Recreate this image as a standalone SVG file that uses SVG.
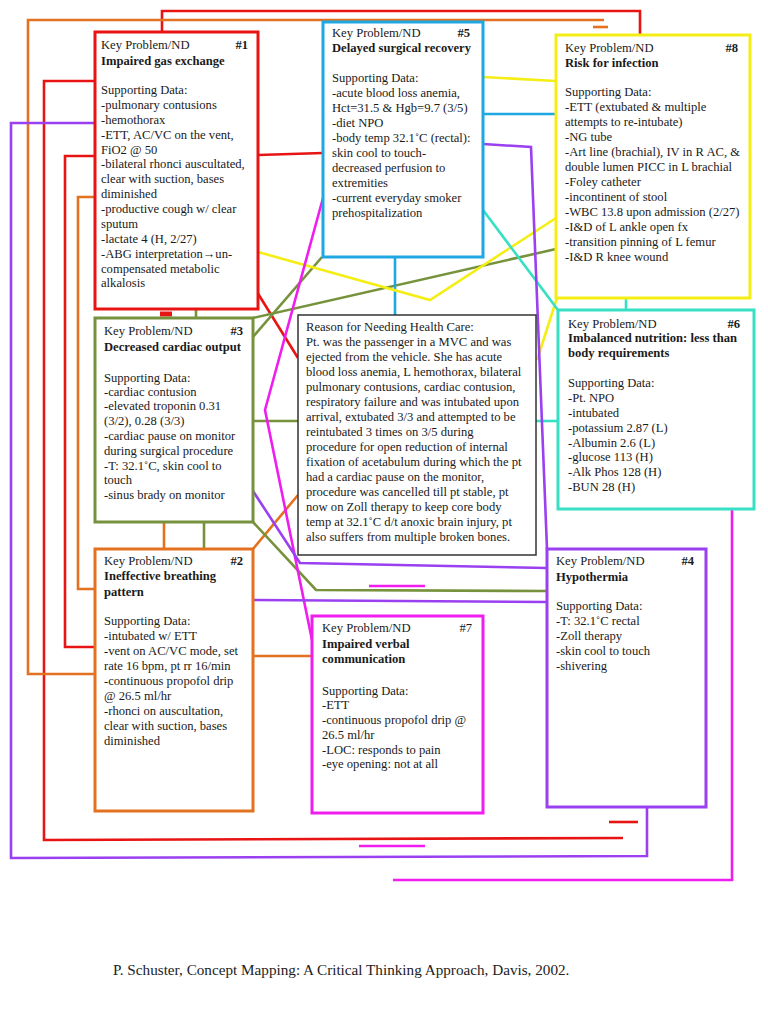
<svg xmlns="http://www.w3.org/2000/svg" width="768" height="1024" viewBox="0 0 768 1024">
<style>
.t{font-family:"Liberation Serif","Times New Roman",serif;font-size:12.6px;fill:#1a1a1a}
.b{font-weight:bold}
.n{fill:#fff;stroke-width:3}
.c{fill:none;stroke-width:2.6;stroke-linejoin:miter}
.red{stroke:#e81414}.org{stroke:#e3711f}.grn{stroke:#76923c}.blu{stroke:#1ea7e0}
.yel{stroke:#f5ee14}.cyn{stroke:#36e0c4}.mag{stroke:#ef1eef}.pur{stroke:#9a40f0}
</style>
<rect width="768" height="1024" fill="#fff"/>
<g id="connectors">
<polyline class="c red" points="162,32 162,11 640,11 640,35"/>
<polyline class="c red" points="95,81 44,81 44,840 623,838"/>
<line class="c red" x1="609" y1="822" x2="638" y2="822"/>
<polyline class="c red" points="95,156 65,156 65,647 95,647"/>
<line class="c red" x1="258" y1="155" x2="323" y2="153"/>
<line class="c red" x1="257" y1="292" x2="298" y2="358"/>
<line class="c red" x1="160" y1="314" x2="172" y2="314" style="stroke-width:5"/>
<polyline class="c org" points="604,20 28,20 28,674 95,674"/>
<line class="c org" x1="593" y1="27" x2="608" y2="27"/>
<polyline class="c org" points="95,197 78,197 78,589 95,589"/>
<line class="c org" x1="164" y1="522" x2="164" y2="549"/>
<line class="c org" x1="253" y1="549" x2="298" y2="495"/>
<line class="c org" x1="253" y1="656" x2="312" y2="656"/>
<line class="c grn" x1="556" y1="249" x2="253" y2="318"/>
<line class="c grn" x1="322" y1="257" x2="253" y2="337"/>
<line class="c grn" x1="196" y1="309" x2="196" y2="318"/>
<line class="c grn" x1="204" y1="522" x2="204" y2="549"/>
<polyline class="c grn" points="253,522 316,590 547,591"/>
<line class="c grn" x1="253" y1="421" x2="298" y2="421"/>
<line class="c blu" x1="483" y1="114" x2="556" y2="114"/>
<line class="c blu" x1="395" y1="257" x2="395" y2="315"/>
<line class="c yel" x1="483" y1="77" x2="556" y2="81"/>
<polyline class="c yel" points="258,252 430,300 556,218"/>
<line class="c yel" x1="557" y1="298" x2="537" y2="360"/>
<line class="c cyn" x1="483" y1="210" x2="558" y2="310"/>
<line class="c cyn" x1="626" y1="298" x2="626" y2="310"/>
<line class="c cyn" x1="536" y1="421" x2="558" y2="421"/>
<polyline class="c mag" points="323,198 265,410 312,640"/>
<line class="c mag" x1="369" y1="586" x2="425" y2="586"/>
<line class="c mag" x1="359" y1="846" x2="425" y2="846"/>
<polyline class="c mag" points="732,509 732,880 393,880"/>
<polyline class="c pur" points="95,123 11,123 11,858 647,856 647,807"/>
<polyline class="c pur" points="483,144 531,147 547,549"/>
<polyline class="c pur" points="253,491 300,563 547,568"/>
<line class="c pur" x1="253" y1="600" x2="547" y2="602"/>
</g>
<g id="node1">
<rect class="n red" x="95" y="32" width="163" height="277"/>
<text class="t"><tspan x="101" y="49">Key Problem/ND</tspan><tspan x="248" y="49" text-anchor="end" class="b">#1</tspan><tspan x="101" y="65" class="b">Impaired gas exchange</tspan><tspan x="101" y="94">Supporting Data:</tspan><tspan x="101" y="109">-pulmonary contusions</tspan><tspan x="101" y="124">-hemothorax</tspan><tspan x="101" y="139">-ETT, AC/VC on the vent,</tspan><tspan x="101" y="154">FiO2 @ 50</tspan><tspan x="101" y="168">-bilateral rhonci auscultated,</tspan><tspan x="101" y="183">clear with suction, bases</tspan><tspan x="101" y="198">diminished</tspan><tspan x="101" y="213">-productive cough w/ clear</tspan><tspan x="101" y="228">sputum</tspan><tspan x="101" y="243">-lactate 4 (H, 2/27)</tspan><tspan x="101" y="258">-ABG interpretation→un-</tspan><tspan x="101" y="273">compensated metabolic</tspan><tspan x="101" y="287">alkalosis</tspan></text>
</g>
<g id="node5">
<rect class="n blu" x="323" y="22" width="160" height="235"/>
<text class="t"><tspan x="332" y="37">Key Problem/ND</tspan><tspan x="470" y="37" text-anchor="end" class="b">#5</tspan><tspan x="332" y="52" class="b">Delayed surgical recovery</tspan><tspan x="332" y="82">Supporting Data:</tspan><tspan x="332" y="97">-acute blood loss anemia,</tspan><tspan x="332" y="112">Hct=31.5 &amp; Hgb=9.7 (3/5)</tspan><tspan x="332" y="127">-diet NPO</tspan><tspan x="332" y="142">-body temp 32.1˚C (rectal):</tspan><tspan x="332" y="157">skin cool to touch-</tspan><tspan x="332" y="172">decreased perfusion to</tspan><tspan x="332" y="187">extremities</tspan><tspan x="332" y="202">-current everyday smoker</tspan><tspan x="332" y="217">prehospitalization</tspan></text>
</g>
<g id="node8">
<rect class="n yel" x="556" y="35" width="194" height="263"/>
<text class="t"><tspan x="565" y="52">Key Problem/ND</tspan><tspan x="738" y="52" text-anchor="end" class="b">#8</tspan><tspan x="565" y="67" class="b">Risk for infection</tspan><tspan x="565" y="96">Supporting Data:</tspan><tspan x="565" y="111">-ETT (extubated &amp; multiple</tspan><tspan x="565" y="126">attempts to re-intubate)</tspan><tspan x="565" y="141">-NG tube</tspan><tspan x="565" y="156">-Art line (brachial), IV in R AC, &amp;</tspan><tspan x="565" y="171">double lumen PICC in L brachial</tspan><tspan x="565" y="186">-Foley catheter</tspan><tspan x="565" y="201">-incontinent of stool</tspan><tspan x="565" y="216">-WBC 13.8 upon admission (2/27)</tspan><tspan x="565" y="231">-I&amp;D of L ankle open fx</tspan><tspan x="565" y="246">-transition pinning of L femur</tspan><tspan x="565" y="261">-I&amp;D R knee wound</tspan></text>
</g>
<g id="node3">
<rect class="n grn" x="95" y="318" width="158" height="204"/>
<text class="t"><tspan x="104" y="335">Key Problem/ND</tspan><tspan x="243" y="335" text-anchor="end" class="b">#3</tspan><tspan x="104" y="351" class="b">Decreased cardiac output</tspan><tspan x="104" y="382">Supporting Data:</tspan><tspan x="104" y="396">-cardiac contusion</tspan><tspan x="104" y="410">-elevated troponin 0.31</tspan><tspan x="104" y="425">(3/2), 0.28 (3/3)</tspan><tspan x="104" y="440">-cardiac pause on monitor</tspan><tspan x="104" y="455">during surgical procedure</tspan><tspan x="104" y="470">-T: 32.1˚C, skin cool to</tspan><tspan x="104" y="484">touch</tspan><tspan x="104" y="499">-sinus brady on monitor</tspan></text>
</g>
<g id="reason">
<rect x="298" y="315" width="238" height="240" fill="#fff" stroke="#333" stroke-width="1.5"/>
<text class="t"><tspan x="306" y="331">Reason for Needing Health Care:</tspan><tspan x="306" y="346">Pt. was the passenger in a MVC and was</tspan><tspan x="306" y="361">ejected from the vehicle. She has acute</tspan><tspan x="306" y="376">blood loss anemia, L hemothorax, bilateral</tspan><tspan x="306" y="391">pulmonary contusions, cardiac contusion,</tspan><tspan x="306" y="406">respiratory failure and was intubated upon</tspan><tspan x="306" y="421">arrival, extubated 3/3 and attempted to be</tspan><tspan x="306" y="436">reintubated 3 times on 3/5 during</tspan><tspan x="306" y="451">procedure for open reduction of internal</tspan><tspan x="306" y="466">fixation of acetabulum during which the pt</tspan><tspan x="306" y="481">had a cardiac pause on the monitor,</tspan><tspan x="306" y="496">procedure was cancelled till pt stable, pt</tspan><tspan x="306" y="511">now on Zoll therapy to keep core body</tspan><tspan x="306" y="526">temp at 32.1˚C d/t anoxic brain injury, pt</tspan><tspan x="306" y="541">also suffers from multiple broken bones.</tspan></text>
</g>
<g id="node6">
<rect class="n cyn" x="558" y="310" width="196" height="199"/>
<text class="t"><tspan x="568" y="328">Key Problem/ND</tspan><tspan x="740" y="328" text-anchor="end" class="b">#6</tspan><tspan x="568" y="342" class="b">Imbalanced nutrition: less than</tspan><tspan x="568" y="357" class="b">body requirements</tspan><tspan x="568" y="387">Supporting Data:</tspan><tspan x="568" y="402">-Pt. NPO</tspan><tspan x="568" y="417">-intubated</tspan><tspan x="568" y="432">-potassium 2.87 (L)</tspan><tspan x="568" y="447">-Albumin 2.6 (L)</tspan><tspan x="568" y="461">-glucose 113 (H)</tspan><tspan x="568" y="476">-Alk Phos 128 (H)</tspan><tspan x="568" y="491">-BUN 28 (H)</tspan></text>
</g>
<g id="node2">
<rect class="n org" x="95" y="549" width="158" height="262"/>
<text class="t"><tspan x="104" y="565">Key Problem/ND</tspan><tspan x="243" y="565" text-anchor="end" class="b">#2</tspan><tspan x="104" y="580" class="b">Ineffective breathing</tspan><tspan x="104" y="596" class="b">pattern</tspan><tspan x="104" y="625">Supporting Data:</tspan><tspan x="104" y="640">-intubated w/ ETT</tspan><tspan x="104" y="655">-vent on AC/VC mode, set</tspan><tspan x="104" y="670">rate 16 bpm, pt rr 16/min</tspan><tspan x="104" y="685">-continuous propofol drip</tspan><tspan x="104" y="700">@ 26.5 ml/hr</tspan><tspan x="104" y="715">-rhonci on auscultation,</tspan><tspan x="104" y="730">clear with suction, bases</tspan><tspan x="104" y="745">diminished</tspan></text>
</g>
<g id="node7">
<rect class="n mag" x="312" y="616" width="171" height="197"/>
<text class="t"><tspan x="322" y="632">Key Problem/ND</tspan><tspan x="472" y="632" text-anchor="end">#7</tspan><tspan x="322" y="648" class="b">Impaired verbal</tspan><tspan x="322" y="663" class="b">communication</tspan><tspan x="322" y="695">Supporting Data:</tspan><tspan x="322" y="709">-ETT</tspan><tspan x="322" y="724">-continuous propofol drip @</tspan><tspan x="322" y="739">26.5 ml/hr</tspan><tspan x="322" y="754">-LOC: responds to pain</tspan><tspan x="322" y="768">-eye opening: not at all</tspan></text>
</g>
<g id="node4">
<rect class="n pur" x="547" y="549" width="159" height="258"/>
<text class="t"><tspan x="556" y="565">Key Problem/ND</tspan><tspan x="694" y="565" text-anchor="end" class="b">#4</tspan><tspan x="556" y="581" class="b">Hypothermia</tspan><tspan x="556" y="610">Supporting Data:</tspan><tspan x="556" y="625">-T: 32.1˚C rectal</tspan><tspan x="556" y="640">-Zoll therapy</tspan><tspan x="556" y="655">-skin cool to touch</tspan><tspan x="556" y="670">-shivering</tspan></text>
</g>
<text x="113" y="975" style="font-family:'Liberation Serif','Times New Roman',serif;font-size:15.2px;fill:#222">P. Schuster, Concept Mapping: A Critical Thinking Approach, Davis, 2002.</text>
</svg>
